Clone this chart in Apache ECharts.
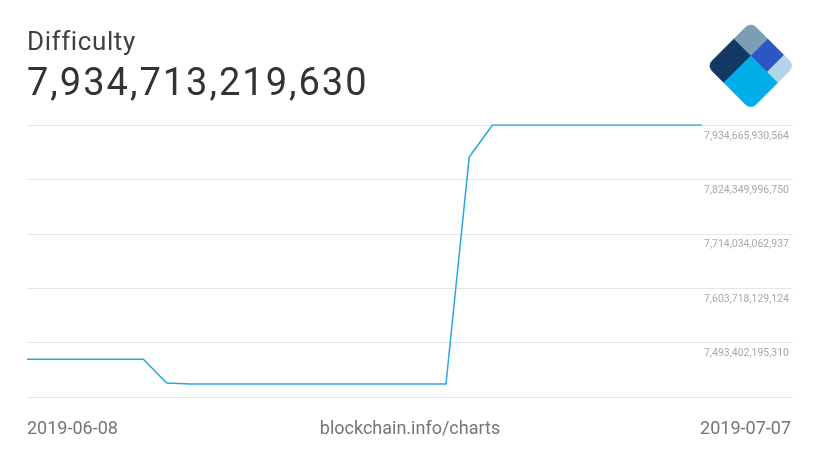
<!DOCTYPE html>
<html>
<head>
<meta charset="utf-8">
<script src="https://cdn.jsdelivr.net/npm/echarts@6/dist/echarts.min.js"></script>
<style>
  html, body { margin: 0; padding: 0; background: #ffffff; }
  #chart { width: 820px; height: 461px; }
</style>
</head>
<body>
<div id="chart"></div>
<script>
// ---- data ----
const chartTitle = 'Difficulty';
const footerText = 'blockchain.info/charts';
const dates = [
  '2019-06-08', '2019-06-09', '2019-06-10', '2019-06-11', '2019-06-12',
  '2019-06-13', '2019-06-14', '2019-06-15', '2019-06-16', '2019-06-17',
  '2019-06-18', '2019-06-19', '2019-06-20', '2019-06-21', '2019-06-22',
  '2019-06-23', '2019-06-24', '2019-06-25', '2019-06-26', '2019-06-27',
  '2019-06-28', '2019-06-29', '2019-06-30', '2019-07-01', '2019-07-02',
  '2019-07-03', '2019-07-04', '2019-07-05', '2019-07-06', '2019-07-07'
];
const difficulty = [
  7459680720542, 7459680720542, 7459680720542, 7459680720542, 7459680720542,
  7459680720542, 7411400000000, 7409399249090, 7409399249090, 7409399249090,
  7409399249090, 7409399249090, 7409399249090, 7409399249090, 7409399249090,
  7409399249090, 7409399249090, 7409399249090, 7409399249090, 7869900000000,
  7934713219630, 7934713219630, 7934713219630, 7934713219630, 7934713219630,
  7934713219630, 7934713219630, 7934713219630, 7934713219630, 7934713219630
];
const yTickLabels = [7493402195310, 7603718129124, 7714034062937, 7824349996750, 7934665930564];

// ---- derived axis settings ----
const yInterval = (yTickLabels[yTickLabels.length - 1] - yTickLabels[0]) / (yTickLabels.length - 1);
const yMin = yTickLabels[0] - yInterval;
const yMax = yTickLabels[yTickLabels.length - 1];
const fmt = v => Math.round(v).toLocaleString('en-US');
function nearestTick(v) {
  let best = yTickLabels[0];
  for (const t of yTickLabels) if (Math.abs(t - v) < Math.abs(best - v)) best = t;
  return best;
}
function spaced(str, style) {
  return str.split('').map(c => '{' + style + '|' + c + '}').join('');
}

const FONT = 'Roboto, "Noto Sans", sans-serif';
const gridTop = 125, gridBottom = 64;

const chart = echarts.init(document.getElementById('chart'), null, { renderer: 'canvas' });

const logoSide = 62, s1 = 24, s2 = 47, rr = 7;
const logo = {
  type: 'group',
  x: 750.8, y: 22,
  rotation: -Math.PI / 4,
  silent: true,
  children: [
    { type: 'rect', shape: { x: 0, y: 0, width: s1, height: s1, r: [rr, 0, 0, 0] }, style: { fill: '#7b9db5', stroke: '#7b9db5', lineWidth: 0.5 } },
    { type: 'rect', shape: { x: s1, y: 0, width: s2 - s1, height: s1, r: 0 }, style: { fill: '#2c56c4', stroke: '#2c56c4', lineWidth: 0.5 } },
    { type: 'rect', shape: { x: s2, y: 0, width: logoSide - s2, height: s1, r: [0, rr, 0, 0] }, style: { fill: '#b1d5e8', stroke: '#b1d5e8', lineWidth: 0.5 } },
    { type: 'rect', shape: { x: 0, y: s1, width: s1, height: logoSide - s1, r: [0, 0, 0, rr] }, style: { fill: '#133863', stroke: '#133863', lineWidth: 0.5 } },
    { type: 'rect', shape: { x: s1, y: s1, width: logoSide - s1, height: logoSide - s1, r: [0, 0, rr, 0] }, style: { fill: '#00aee8', stroke: '#00aee8', lineWidth: 0.5 } }
  ]
};

const option = {
  animation: false,
  backgroundColor: '#ffffff',
  grid: [
    { left: 27, right: 27, top: gridTop, bottom: gridBottom },
    { left: 27, right: 118, top: gridTop, bottom: gridBottom }
  ],
  xAxis: [
    { gridIndex: 0, type: 'value', min: 0, max: 1, show: false },
    { gridIndex: 1, type: 'category', data: dates, boundaryGap: false, show: false }
  ],
  yAxis: [
    {
      gridIndex: 0, type: 'value', position: 'right',
      min: yMin, max: yMax, interval: yInterval,
      axisLine: { show: false }, axisTick: { show: false },
      splitLine: { show: true, lineStyle: { color: '#e6e6e6', width: 1 } },
      axisLabel: {
        inside: true, margin: 4, showMinLabel: false,
        color: '#a8a8a8', fontSize: 10.5, fontFamily: FONT,
        verticalAlign: 'top', lineHeight: 22,
        formatter: v => fmt(nearestTick(v))
      }
    },
    {
      gridIndex: 1, type: 'value', min: yMin, max: yMax, show: false,
      splitLine: { show: false }
    }
  ],
  series: [
    {
      type: 'line', xAxisIndex: 1, yAxisIndex: 1,
      data: difficulty, showSymbol: false, symbol: 'none',
      lineStyle: { color: '#29a7e0', width: 1.5 },
      silent: true
    }
  ],
  graphic: [
    {
      type: 'text', x: 27, y: 43.5, silent: true,
      style: {
        text: spaced(chartTitle, 't'), verticalAlign: 'middle', align: 'left',
        rich: { t: { fontSize: 26, fontFamily: FONT, fill: '#3f3f3f', padding: [0, 0.6, 0, 0] } }
      }
    },
    {
      type: 'text', x: 27, y: 85.5, silent: true,
      style: {
        text: spaced(fmt(difficulty[difficulty.length - 1]), 'n'), verticalAlign: 'middle', align: 'left',
        rich: { n: { fontSize: 38, fontFamily: FONT, fill: '#333333', padding: [0, 2, 0, 0] } }
      }
    },
    {
      type: 'text', x: 27, y: 429.5, silent: true,
      style: { text: dates[0], font: '18px ' + FONT, fill: '#757575', verticalAlign: 'middle', align: 'left' }
    },
    {
      type: 'text', x: 410, y: 429.5, silent: true,
      style: { text: footerText, font: '18px ' + FONT, fill: '#757575', verticalAlign: 'middle', align: 'center' }
    },
    {
      type: 'text', x: 791, y: 429.5, silent: true,
      style: { text: dates[dates.length - 1], font: '18px ' + FONT, fill: '#757575', verticalAlign: 'middle', align: 'right' }
    },
    logo
  ]
};

chart.setOption(option);
</script>
</body>
</html>
